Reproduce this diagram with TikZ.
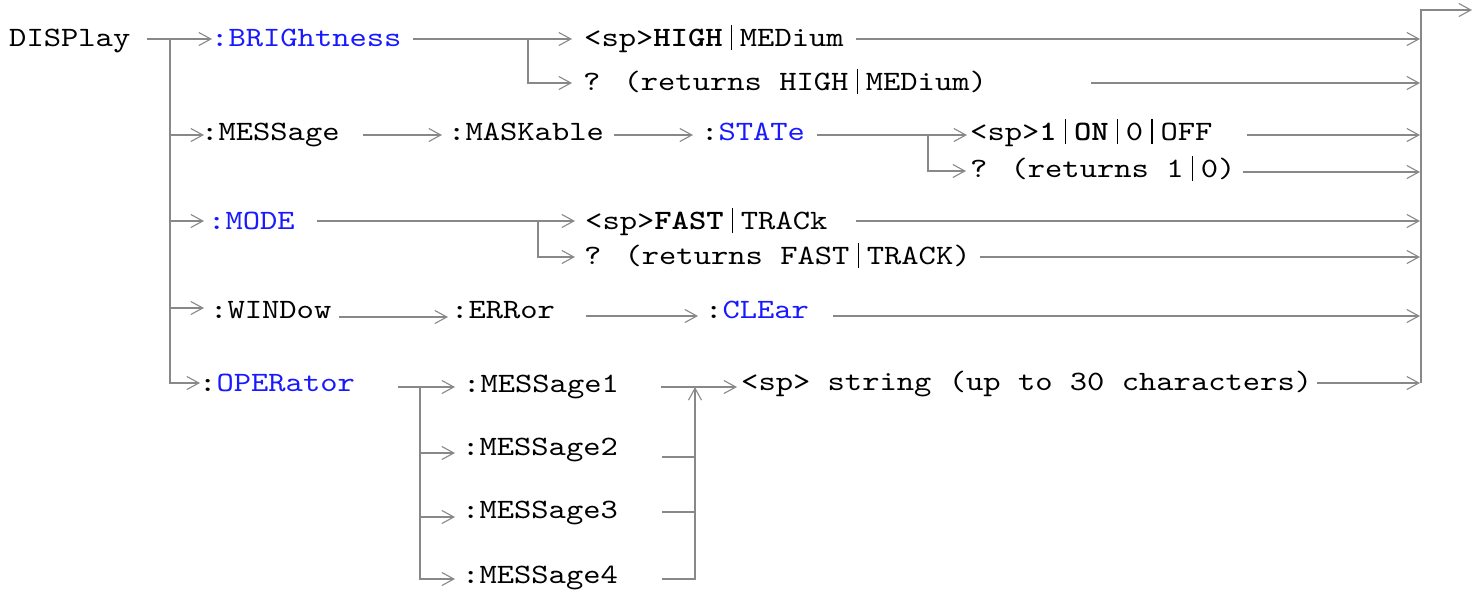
\documentclass[tikz,border=0pt]{standalone}
\usepackage{fontspec}
\setmainfont{lmmono10-regular.otf}[FakeStretch=1.177,BoldFont=lmmonolt10-bold.otf]
\usetikzlibrary{arrows.meta}
\definecolor{lc}{RGB}{136,136,136}
\definecolor{kw}{RGB}{25,25,255}
\newcommand\pipebar{\makebox[17.3pt]{\rule[-3.5pt]{1.3pt}{25pt}}}
\begin{document}
\begin{tikzpicture}[x=1pt,y=-1pt,
  txt/.style={anchor=base west,inner sep=0pt,font=\fontsize{28}{33}\selectfont},
  ln/.style={draw=lc,line width=1.7pt,line join=miter},
  arr/.style={ln,-{Straight Barb[length=12pt,width=13pt,line width=1.1pt]}},
]
\useasboundingbox (0,0) rectangle (1484,598);

% ---------- text nodes ----------
\node[txt] (disp)   at (9,46.7)   {DISPlay};
\node[txt] (bright) at (211,46.7) {\textcolor{kw}{:BRIGhtness}};
\node[txt] (high)   at (584,46.7) {<sp>\textbf{HIGH}\pipebar MEDium};
\node[txt] (qa)     at (583,90)   {? (returns HIGH\pipebar MEDium)};

\node[txt] (mess)   at (201,140)  {:MESSage};
\node[txt] (mask)   at (448,140)  {:MASKable};
\node[txt] (state)  at (701,140)  {:\textcolor{kw}{STATe}};
\node[txt] (onoff)  at (970,140)  {<sp>\textbf{1}\pipebar\textbf{ON}\pipebar 0\pipebar OFF};
\node[txt] (qb)     at (970,177)  {? (returns 1\pipebar 0)};

\node[txt] (mode)   at (208,229)  {\textcolor{kw}{:MODE}};
\node[txt] (fast)   at (585,229)  {<sp>\textbf{FAST}\pipebar TRACk};
\node[txt] (qc)     at (584,264)  {? (returns FAST\pipebar TRACK)};

\node[txt] (window) at (210,318)  {:WINDow};
\node[txt] (error)  at (451,318)  {:ERRor};
\node[txt] (clear)  at (705,318)  {:\textcolor{kw}{CLEar}};

\node[txt] (oper)   at (199,391)  {:\textcolor{kw}{OPERator}};
\node[txt] (ma)     at (463,392)  {:MESSage1};
\node[txt] (mb)     at (462,455)  {:MESSage2};
\node[txt] (mc)     at (462,518)  {:MESSage3};
\node[txt] (md)     at (462,583)  {:MESSage4};
\node[txt] (str)    at (741,390)  {<sp> string (up to 30 characters)};

% ---------- junction coordinates ----------
% left bus
\coordinate (d0) at (147,39);
\coordinate (bT) at (170,39);
\coordinate (b3) at (170,135);
\coordinate (b5) at (170,221);
\coordinate (b7) at (170,308);
\coordinate (bB) at (170,383);
\coordinate (brIn) at (212,39);
\coordinate (msIn) at (204,135);
\coordinate (moIn) at (204,221);
\coordinate (wiIn) at (204,308);
\coordinate (opIn) at (200,383);
% right bus
\coordinate (rT) at (1420.7,10);
\coordinate (rB) at (1420.7,383);
\coordinate (rOut) at (1472,10);
\coordinate (r1) at (1420,39);
\coordinate (r2) at (1420,83);
\coordinate (r3) at (1420,135);
\coordinate (r4) at (1420,172);
\coordinate (r5) at (1420,221);
\coordinate (r6) at (1420,257);
\coordinate (r7) at (1420,316);
\coordinate (r8) at (1420,383);
% brightness
\coordinate (brOut) at (413,39);
\coordinate (brJ) at (528,39);
\coordinate (hiIn) at (572,39);
\coordinate (qaIn) at (572,83);
\coordinate (hiOut) at (856,39);
\coordinate (qaOut) at (1091,83);
% message
\coordinate (msOut) at (363,135);
\coordinate (maIn) at (442,135);
\coordinate (maOut) at (614,135);
\coordinate (stIn) at (693,135);
\coordinate (stOut) at (817,135);
\coordinate (stJ) at (928,135);
\coordinate (onIn) at (967,135);
\coordinate (qbIn) at (966,171);
\coordinate (onOut) at (1247,135);
\coordinate (qbOut) at (1243,172);
% mode
\coordinate (moOut) at (317,221);
\coordinate (moJ) at (538,221);
\coordinate (faIn) at (575,221);
\coordinate (qcIn) at (575,257);
\coordinate (faOut) at (856,221);
\coordinate (qcOut) at (980,257);
% window
\coordinate (wiOut) at (339,317);
\coordinate (erIn) at (448,317);
\coordinate (erOut) at (586,316);
\coordinate (clIn) at (698,316);
\coordinate (clOut) at (833,316);
% operator
\coordinate (opOut) at (398,387);
\coordinate (opJ) at (420,387);
\coordinate (m1In) at (455,387);
\coordinate (m2In) at (455,453);
\coordinate (m3In) at (455,517);
\coordinate (m4In) at (455,579);
\coordinate (m1Out) at (661,387);
\coordinate (m2Out) at (662,457);
\coordinate (m3Out) at (662,512);
\coordinate (m4Out) at (662,579);
\coordinate (mJ) at (695,387);
\coordinate (strIn) at (737,387);
\coordinate (strOut) at (1317,383);

% ---------- connectors ----------
% left bus
\draw[arr] (d0) -- (brIn);
\draw[arr] (bT) -- (bB) -- (opIn);
\draw[arr] (b3) -- (msIn);
\draw[arr] (b5) -- (moIn);
\draw[arr] (b7) -- (wiIn);
% right bus
\draw[arr] (rB) -- (rT) -- (rOut);
% brightness
\draw[arr] (brOut) -- (hiIn);
\draw[arr] (brJ) |- (qaIn);
\draw[arr] (hiOut) -- (r1);
\draw[arr] (qaOut) -- (r2);
% message
\draw[arr] (msOut) -- (maIn);
\draw[arr] (maOut) -- (stIn);
\draw[arr] (stOut) -- (onIn);
\draw[arr] (stJ) |- (qbIn);
\draw[arr] (onOut) -- (r3);
\draw[arr] (qbOut) -- (r4);
% mode
\draw[arr] (moOut) -- (faIn);
\draw[arr] (moJ) |- (qcIn);
\draw[arr] (faOut) -- (r5);
\draw[arr] (qcOut) -- (r6);
% window
\draw[arr] (wiOut) -- (erIn);
\draw[arr] (erOut) -- (clIn);
\draw[arr] (clOut) -- (r7);
% operator
\draw[arr] (opOut) -- (m1In);
\draw[arr] (opJ) |- (m4In);
\draw[arr] (opJ |- m2In) -- (m2In);
\draw[arr] (opJ |- m3In) -- (m3In);
\draw[arr] (m1Out) -- (strIn);
\draw[arr] (m4Out) -| (mJ);
\draw[ln] (m2Out) -- (mJ |- m2Out);
\draw[ln] (m3Out) -- (mJ |- m3Out);
\draw[arr] (strOut) -- (r8);
\end{tikzpicture}
\end{document}
